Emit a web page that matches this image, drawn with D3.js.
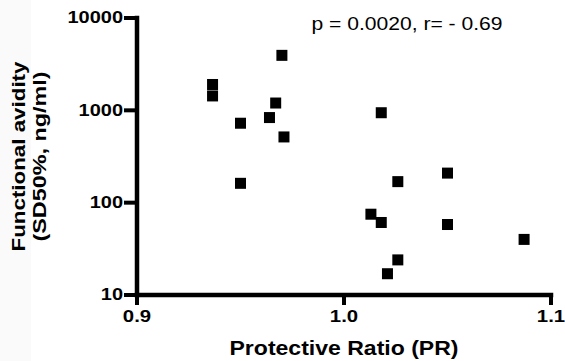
<!DOCTYPE html>
<html>
<head>
<meta charset="utf-8">
<script src="https://cdn.jsdelivr.net/npm/d3@7"></script>
<style>
  html, body { margin: 0; padding: 0; background: #fff; }
  svg { display: block; }
  text { font-family: "Liberation Sans", Arial, sans-serif; fill: #000; }
</style>
</head>
<body>
<svg id="chart" width="565" height="361"></svg>
<script>
// Data
const protectiveRatio = [0.9365, 0.9365, 0.950, 0.950, 0.964, 0.967, 0.970, 0.971,
                         1.018, 1.026, 1.050, 1.013, 1.018, 1.050, 1.087, 1.026, 1.021];
const avidity = [1905, 1432, 725, 162, 835, 1200, 3940, 515,
                 942, 169, 209, 75, 61, 58, 40, 24, 17];
const xTicks = [0.9, 1.0, 1.1];
const yTicks = [10, 100, 1000, 10000];
const annotation = "p = 0.0020, r= - 0.69";
const xTitle = "Protective Ratio (PR)";
const yTitleLines = ["Functional avidity", "(SD50%, ng/ml)"];

const svg = d3.select("#chart");
const W = 565, H = 361;
const mLeft = 137, mRight = 551, mTop = 18, mBottom = 295;

svg.append("rect").attr("x", 0).attr("y", 0).attr("width", 31).attr("height", H)
  .attr("fill", "#fafafa");

const x = d3.scaleLinear().domain([0.9, 1.1]).range([mLeft, mRight]);
const y = d3.scaleLog().domain([10, 10000]).range([mBottom, mTop]);

// Axes
const xAxis = d3.axisBottom(x).tickValues(xTicks).tickFormat(d3.format(".1f"))
  .tickSize(10).tickSizeOuter(0).tickPadding(5).offset(0);
const yAxis = d3.axisLeft(y).tickValues(yTicks).tickFormat(d3.format("d"))
  .tickSize(13).tickSizeOuter(0).tickPadding(1).offset(0);

const gx = svg.append("g").attr("transform", `translate(0,${mBottom})`).call(xAxis);
const gy = svg.append("g").attr("transform", `translate(${mLeft},0)`).call(yAxis);

[gx, gy].forEach(g => {
  g.select(".domain").style("stroke", "#000").style("stroke-width", "4.5px")
    .style("stroke-linecap", "square");
  g.selectAll(".tick line").style("stroke", "#000").style("stroke-width", "4px");
  g.selectAll(".tick text").attr("fill", "#000")
    .style("font-family", "'Liberation Sans', Arial, sans-serif")
    .style("font-weight", "bold").style("font-size", "16.5px")
    .attr("lengthAdjust", "spacingAndGlyphs");
});
gy.selectAll(".tick text").attr("textLength", d => String(d).length * 11.1);
gx.selectAll(".tick text").attr("dy", "0.71em").attr("textLength", 28.3);

// Points
svg.append("g").selectAll("rect.pt")
  .data(protectiveRatio.map((p, i) => ({ p, v: avidity[i] })))
  .join("rect").attr("class", "pt")
  .attr("x", d => x(d.p) - 5.5).attr("y", d => y(d.v) - 5.5)
  .attr("width", 11).attr("height", 11).attr("fill", "#000");

// Annotation
svg.append("text").attr("x", 311.5).attr("y", 30)
  .style("font-size", "18.3px")
  .attr("textLength", 191).attr("lengthAdjust", "spacingAndGlyphs")
  .text(annotation);

// X title
svg.append("text").attr("x", (mLeft + mRight) / 2).attr("y", 355)
  .attr("text-anchor", "middle").style("font-weight", "bold").style("font-size", "20.5px")
  .attr("textLength", 229).attr("lengthAdjust", "spacingAndGlyphs")
  .text(xTitle);

// Y title
const yt = svg.append("text")
  .attr("transform", `translate(0,${(mTop + mBottom) / 2}) rotate(-90)`)
  .attr("text-anchor", "middle").style("font-weight", "bold").style("font-size", "19px");
yt.append("tspan").attr("x", 0).attr("y", 25)
  .attr("textLength", 190).attr("lengthAdjust", "spacingAndGlyphs").text(yTitleLines[0]);
yt.append("tspan").attr("x", 0).attr("y", 45.5)
  .attr("textLength", 170).attr("lengthAdjust", "spacingAndGlyphs").text(yTitleLines[1]);
</script>
</body>
</html>
